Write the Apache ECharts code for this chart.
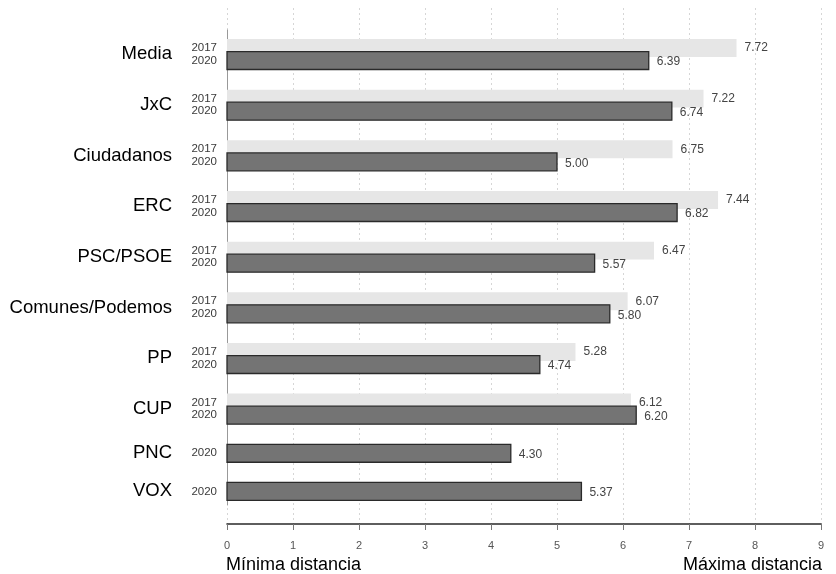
<!DOCTYPE html>
<html>
<head>
<meta charset="utf-8">
<script src="https://cdn.jsdelivr.net/npm/echarts@6/dist/echarts.min.js"></script>
<style>html,body{margin:0;padding:0;background:#fff}#c{width:836px;height:574px}</style>
</head>
<body>
<div id="c"></div>
<script>
// ---- data ----
const parties = ['Media', 'JxC', 'Ciudadanos', 'ERC', 'PSC/PSOE', 'Comunes/Podemos', 'PP', 'CUP', 'PNC', 'VOX'];
const years = ['2017', '2020'];
const values2017 = [7.72, 7.22, 6.75, 7.44, 6.47, 6.07, 5.28, 6.12, null, null];
const values2020 = [6.39, 6.74, 5.00, 6.82, 5.57, 5.80, 4.74, 6.20, 4.30, 5.37];
const xTickLabels = ['0', '1', '2', '3', '4', '5', '6', '7', '8', '9'];
const axisTitles = ['Mínima distancia', 'Máxima distancia'];

// ---- layout (bar-thickness units on a hidden position axis) ----
const BAR = 1, SHIFT = 0.7, GAP = 1.12;
const FONT = '"Liberation Sans", Arial, sans-serif';
const rows2017 = [], rows2020 = [], partyRows = [];
let cursor = 0;
parties.forEach((p, i) => {
  const has17 = values2017[i] != null;
  let c20;
  if (has17) {
    const c17 = cursor + BAR / 2;
    rows2017.push([values2017[i], c17]);
    c20 = c17 + SHIFT;
  } else {
    c20 = cursor + BAR / 2;
  }
  rows2020.push([values2020[i], c20]);
  const end = c20 + BAR / 2;
  partyRows.push([0, (cursor + end) / 2]);
  cursor = end + GAP;
});
const total = cursor - GAP;

function barRender(year, fill, stroke, lw, dy) {
  return function (params, api) {
    const v = api.value(0), pos = api.value(1);
    const a = api.coord([0, pos]);
    const b = api.coord([v, pos]);
    const h = api.size([0, BAR])[1];
    return {
      type: 'group',
      children: [
        { type: 'rect', shape: { x: a[0], y: a[1] - h / 2, width: b[0] - a[0], height: h },
          style: { fill: fill, stroke: stroke, lineWidth: lw } },
        { type: 'text', x: b[0] + 8, y: a[1] + dy,
          style: { text: v.toFixed(2), fill: '#444', font: '12px ' + FONT, align: 'left', verticalAlign: 'middle' } },
        { type: 'text', x: a[0] - 10, y: a[1],
          style: { text: year, fill: '#3a3a3a', font: '11.5px ' + FONT, align: 'right', verticalAlign: 'middle' } }
      ]
    };
  };
}

const chart = echarts.init(document.getElementById('c'), null, { renderer: 'canvas' });
chart.setOption({
  animation: false,
  backgroundColor: '#fff',
  grid: [
    { left: 227, right: 15, top: 30, height: 475, containLabel: false },
    { left: 227, right: 15, top: 8, bottom: 50, containLabel: false }
  ],
  xAxis: [
    { type: 'value', gridIndex: 0, min: 0, max: 9, interval: 1, offset: 19, position: 'bottom',
      axisLine: { show: true, onZero: false, lineStyle: { color: '#2a2a2a', width: 1.6 } },
      axisTick: { show: true, length: 6, lineStyle: { color: '#777' } },
      axisLabel: { color: '#555', fontSize: 11, fontFamily: FONT, margin: 16,
        formatter: (v) => xTickLabels[Math.round(v)] },
      splitLine: { show: false } },
    { type: 'value', gridIndex: 1, min: 0, max: 9, interval: 1, position: 'bottom',
      axisLine: { show: false, onZero: false }, axisTick: { show: false }, axisLabel: { show: false },
      splitLine: { show: true, lineStyle: { color: '#d6d6d6', type: [2, 3], width: 1 } } }
  ],
  yAxis: [
    { type: 'value', gridIndex: 0, inverse: true, min: -0.5, max: total + 0.26, position: 'left',
      axisLine: { show: true, onZero: false, lineStyle: { color: '#999', width: 1 } },
      axisTick: { show: false }, axisLabel: { show: false }, splitLine: { show: false } },
    { type: 'value', gridIndex: 1, min: 0, max: 1, show: false, splitLine: { show: false } }
  ],
  series: [
    { type: 'custom', name: years[0], xAxisIndex: 0, yAxisIndex: 0, data: rows2017,
      encode: { x: 0, y: 1 }, renderItem: barRender(years[0], '#e6e6e6', null, 0, 0), z: 2 },
    { type: 'custom', name: years[1], xAxisIndex: 0, yAxisIndex: 0, data: rows2020,
      encode: { x: 0, y: 1 }, renderItem: barRender(years[1], '#747474', '#2a2a2a', 1.3, 1.5), z: 3 },
    { type: 'custom', name: 'partidos', xAxisIndex: 0, yAxisIndex: 0, data: partyRows,
      encode: { x: 0, y: 1 }, z: 4,
      renderItem: function (params, api) {
        const a = api.coord([0, api.value(1)]);
        return { type: 'text', x: a[0] - 55, y: a[1],
          style: { text: parties[params.dataIndex], fill: '#000', font: '18.5px ' + FONT, align: 'right', verticalAlign: 'middle' } };
      } }
  ],
  graphic: [
    { type: 'text', left: 226, top: 556, style: { text: axisTitles[0], fill: '#000', font: '18px ' + FONT } },
    { type: 'text', right: 14, top: 556, style: { text: axisTitles[1], fill: '#000', font: '18px ' + FONT } }
  ]
});
</script>
</body>
</html>
